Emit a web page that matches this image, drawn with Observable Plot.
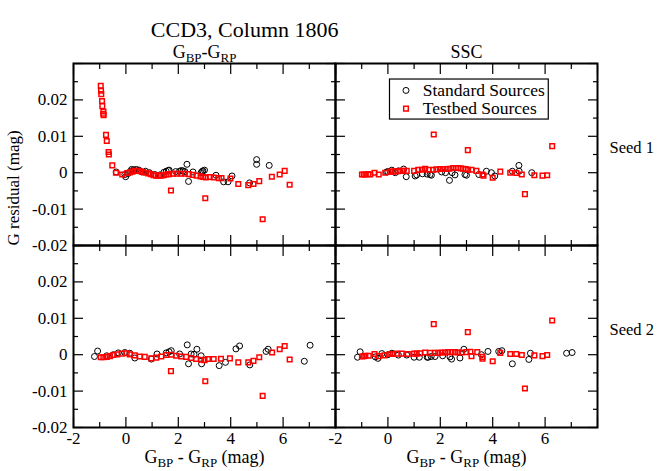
<!DOCTYPE html>
<html><head><meta charset="utf-8">
<script src="https://cdn.jsdelivr.net/npm/d3@7"></script>
<script src="https://cdn.jsdelivr.net/npm/@observablehq/plot@0.6"></script>
<style>body{margin:0;background:#fff} #chart{width:657px;height:471px} #chart svg text{font-family:"Liberation Serif","Times New Roman",serif}</style>
</head><body><div id="chart"></div>
<script>
const title = "CCD3, Column 1806";
const methods = ["GBP-GRP", "SSC"];
const methodLabels = ["G_{BP}-G_{RP}", "SSC"];
const seeds = ["Seed 1", "Seed 2"];
const seriesNames = ["Standard Sources", "Testbed Sources"];
const xLabel = "G_{BP} - G_{RP} (mag)";
const yLabel = "G residual (mag)";
const xTicks = [-2, 0, 2, 4, 6];
const xTickLabels = ["-2", "0", "2", "4", "6"];
const xMajor = [-2, 0, 2, 4, 6, 8];
const xMinor = [-1, 1, 3, 5, 7];
const yTicks = [-0.02, -0.01, 0, 0.01, 0.02];
const yTickLabels = ["-0.02", "-0.01", "0", "0.01", "0.02"];
const yMajor = [-0.02, -0.01, 0, 0.01, 0.02, 0.03];
const yMinor = [-0.015, -0.005, 0.005, 0.015, 0.025];

// Standard sources (black circles)
const stdBprpSeed1 = [[-0.37,0.0002],[-0.04,-0.0005],[-0.01,-0.0011],[0.09,-0.0002],[0.18,0.0004],[0.22,0.0009],[0.3,0.0008],[0.4,0.0009],[0.5,0.0007],[0.6,0.0002],[0.75,0.0004],[0.9,0.0],[1.1,-0.0005],[1.3,-0.0006],[1.45,0.0001],[1.54,0.0004],[1.62,0.0006],[1.65,0.0007],[1.9,0.0003],[2.05,0.0004],[2.12,0.0006],[2.18,0.0005],[2.25,0.0003],[2.33,0.0023],[2.39,-0.0024],[2.56,0.0002],[2.87,0.0],[2.91,0.0003],[2.94,0.0005],[3.0,0.0007],[3.44,-0.0007],[3.73,-0.0025],[3.9,-0.0025],[4.05,-0.0009],[4.72,-0.0028],[4.99,0.0036],[4.99,0.0023],[5.47,0.002]];
const stdSscSeed1 = [[-0.05,0.0002],[0.0,0.0003],[0.15,0.0007],[0.28,0.0],[0.4,0.0005],[0.6,0.001],[0.7,-0.0011],[1.04,-0.0009],[1.1,-0.0006],[1.32,-0.0003],[1.5,-0.0004],[1.61,-0.0005],[1.66,-0.0007],[2.05,0.0002],[2.2,0.0],[2.35,-0.0021],[2.45,0.0],[2.56,-0.0006],[2.94,-0.0005],[3.0,-0.0007],[3.47,-0.0005],[3.76,0.0004],[3.95,0.0],[4.08,-0.0009],[4.75,0.0004],[5.0,0.002],[5.01,0.0004],[5.49,0.0]];
const stdBprpSeed2 = [[-1.2,-0.0005],[-1.08,0.001],[-0.73,-0.0003],[-0.48,0.0],[-0.29,0.0005],[-0.04,0.0006],[0.15,0.0004],[0.34,-0.0009],[0.97,-0.0012],[1.19,0.0002],[1.54,0.0005],[1.65,0.0008],[1.73,0.0011],[2.05,0.0002],[2.34,0.0027],[2.39,-0.0025],[2.49,0.0002],[2.6,0.0001],[2.71,0.0015],[2.87,-0.0003],[2.89,-0.0025],[3.56,-0.003],[3.8,-0.0021],[4.2,0.0016],[4.34,0.0024],[4.73,-0.0028],[5.35,0.0009],[5.43,0.0015],[6.81,-0.0018],[7.03,0.0026]];
const stdSscSeed2 = [[-1.16,-0.0007],[-1.06,0.0008],[-0.48,-0.0006],[-0.38,-0.001],[-0.23,0.0003],[0.0,0.0],[0.15,0.0004],[0.4,-0.0001],[0.72,-0.0001],[1.0,-0.0007],[1.2,-0.0007],[1.5,-0.0007],[1.54,-0.0007],[1.65,-0.0005],[1.8,-0.0005],[2.09,-0.0003],[2.37,-0.0006],[2.43,-0.0012],[2.75,-0.0009],[2.9,0.0015],[3.57,0.0],[3.82,0.0009],[4.23,0.0009],[4.35,0.0011],[4.75,-0.0025],[5.38,-0.0013],[5.44,0.0004],[6.82,0.0004],[7.03,0.0006]];

// Testbed sources (red squares)
const tbBprpSeed1 = [[-0.96,0.0239],[-0.95,0.0225],[-0.94,0.0216],[-0.91,0.0197],[-0.9,0.0183],[-0.86,0.0168],[-0.86,0.0162],[-0.85,0.0158],[-0.76,0.0104],[-0.73,0.0087],[-0.66,0.0057],[-0.65,0.005],[-0.52,0.002],[-0.38,0.0],[-0.14,-0.0005],[0.05,-0.0001],[0.15,0.0001],[0.25,0.0003],[0.35,0.0005],[0.45,0.0005],[0.55,0.0004],[0.65,0.0002],[0.75,0.0],[0.85,-0.0002],[0.95,-0.0004],[1.05,-0.0007],[1.15,-0.0008],[1.25,-0.0008],[1.35,-0.0008],[1.45,-0.0007],[1.55,-0.0005],[1.65,-0.0004],[1.8,-0.0003],[1.95,-0.0003],[2.1,-0.0003],[2.25,-0.0003],[2.4,-0.0004],[2.55,-0.0006],[2.7,-0.0008],[2.85,-0.001],[2.95,-0.0012],[3.05,-0.0013],[3.2,-0.0012],[3.35,-0.0013],[3.55,-0.0015],[3.65,-0.0015],[1.72,-0.0049],[3.03,-0.007],[3.99,-0.0016],[4.29,-0.0031],[4.67,-0.0034],[4.87,-0.0031],[5.09,-0.0023],[5.22,-0.0128],[5.57,-0.0011],[5.87,-0.0005],[6.06,0.0005],[6.25,-0.0033]];
const tbSscSeed1 = [[-0.99,-0.0005],[-0.92,-0.0005],[-0.86,-0.0005],[-0.75,-0.0004],[-0.67,-0.0005],[-0.51,0.0],[-0.35,-0.0005],[-0.1,0.0],[0.09,0.0003],[0.2,0.0003],[0.28,0.0004],[0.38,0.0004],[0.47,0.0005],[0.6,0.0005],[0.72,0.0005],[1.0,0.0005],[1.16,0.0008],[1.3,0.0008],[1.42,0.0011],[1.55,0.0008],[1.73,0.0008],[1.85,0.0009],[1.99,0.001],[2.1,0.001],[2.24,0.001],[2.35,0.0011],[2.49,0.0013],[2.6,0.0013],[2.68,0.0013],[2.78,0.0012],[2.87,0.0011],[2.97,0.001],[3.06,0.0008],[3.19,0.0008],[3.38,0.0005],[3.61,-0.0005],[3.65,-0.0008],[4.0,-0.0014],[4.29,0.0003],[4.67,0.0],[4.9,-0.0001],[5.11,-0.0005],[5.23,-0.0059],[5.59,-0.0007],[5.9,-0.0008],[6.08,-0.0007],[1.75,0.0105],[3.05,0.0062],[6.27,0.0073]];
const tbBprpSeed2 = [[-0.96,-0.0007],[-0.86,-0.0007],[-0.73,-0.0006],[-0.61,-0.0004],[-0.48,-0.0001],[-0.33,0.0001],[-0.16,0.0003],[0.03,0.0004],[0.15,0.0001],[0.34,-0.0002],[0.53,-0.0005],[0.72,-0.0006],[0.97,-0.001],[1.16,-0.0008],[1.35,-0.0005],[1.54,-0.0001],[1.73,0.0],[1.92,-0.0003],[2.11,-0.0005],[2.3,-0.0006],[2.49,-0.0009],[2.68,-0.0012],[2.87,-0.0014],[3.0,-0.0015],[3.13,-0.0012],[3.35,-0.0012],[3.63,-0.0011],[3.97,-0.001],[4.29,-0.0021],[4.67,-0.0021],[4.87,-0.0017],[5.09,-0.0007],[5.58,0.0006],[5.87,0.0015],[6.06,0.0024],[6.25,-0.0013],[1.72,-0.0045],[3.03,-0.0073],[5.22,-0.0113]];
const tbSscSeed2 = [[-0.99,-0.0005],[-0.92,-0.0004],[-0.86,-0.0003],[-0.73,-0.0003],[-0.51,0.0002],[-0.35,-0.0004],[-0.13,-0.0002],[0.09,0.0002],[0.2,0.0002],[0.34,0.0003],[0.53,0.0003],[0.76,0.0002],[1.0,0.0003],[1.1,0.0003],[1.23,0.0004],[1.42,0.0006],[1.61,0.0005],[1.8,0.0005],[1.92,0.0005],[2.05,0.0006],[2.18,0.0006],[2.3,0.0007],[2.43,0.0007],[2.56,0.0007],[2.68,0.0006],[2.81,0.0006],[3.0,0.0007],[3.15,0.0008],[3.19,-0.0004],[3.41,0.0007],[3.61,-0.0006],[3.61,-0.0011],[4.0,-0.0018],[4.29,0.0005],[4.67,0.0002],[4.9,0.0002],[5.11,-0.0001],[5.23,-0.0093],[5.59,-0.0002],[5.9,-0.0004],[6.08,-0.0001],[1.75,0.0084],[3.05,0.0062],[6.27,0.0094]];

const rows = [];
function add(arr, method, seed, series) { for (const [x, y] of arr) rows.push({method, seed, series, x, y}); }
add(stdBprpSeed1, methods[0], seeds[0], seriesNames[0]);
add(stdSscSeed1, methods[1], seeds[0], seriesNames[0]);
add(stdBprpSeed2, methods[0], seeds[1], seriesNames[0]);
add(stdSscSeed2, methods[1], seeds[1], seriesNames[0]);
add(tbBprpSeed1, methods[0], seeds[0], seriesNames[1]);
add(tbSscSeed1, methods[1], seeds[0], seriesNames[1]);
add(tbBprpSeed2, methods[0], seeds[1], seriesNames[1]);
add(tbSscSeed2, methods[1], seeds[1], seriesNames[1]);

const font = "Liberation Serif";
const headers = methods.map((m, i) => ({method: m, seed: seeds[0], label: methodLabels[i]}));
const rowLabels = seeds.map(s => ({method: methods[1], seed: s, label: s}));
const xLabels = methods.map(m => ({method: m, seed: seeds[1], label: xLabel}));
const yLabels = [{method: methods[0], seed: seeds[0], label: yLabel}];
const titles = [{method: methods[0], seed: seeds[0], label: title}];
const legendPanel = [{method: methods[1], seed: seeds[0]}];
const legendStd = [{method: methods[1], seed: seeds[0], label: seriesNames[0]}];
const legendTb = [{method: methods[1], seed: seeds[0], label: seriesNames[1]}];

const tickOpts = {fill: "none", facetAnchor: null, stroke: "black", strokeWidth: 1.2};
const fmtX = d => xTickLabels[xTicks.indexOf(d)];
const fmtY = d => yTickLabels[yTicks.indexOf(d)];
const txt = {fill: "black", fontFamily: font};

const chart = Plot.plot({
  width: 657, height: 471,
  marginLeft: 73, marginRight: 60, marginTop: 62, marginBottom: 44,
  style: {fontFamily: font, background: "white", color: "black"},
  fx: {domain: methods, padding: 0, axis: null},
  fy: {domain: seeds, padding: 0, axis: null},
  x: {domain: [-2, 8], axis: null},
  y: {domain: [-0.02, 0.03], axis: null},
  marks: [
    Plot.dot(rows.filter(d => d.series === seriesNames[0]), {x: "x", y: "y", fx: "method", fy: "seed", symbol: "circle", r: 3, stroke: "black", strokeWidth: 1, fill: "none"}),
    Plot.dot(rows.filter(d => d.series === seriesNames[1]), {x: "x", y: "y", fx: "method", fy: "seed", symbol: "square", r: 2.6, stroke: "#ff0000", strokeWidth: 1.5, fill: "none"}),
    Plot.axisX(xMajor, {anchor: "bottom", tickSize: -10, ...tickOpts}),
    Plot.axisX(xMinor, {anchor: "bottom", tickSize: -5, ...tickOpts}),
    Plot.axisX(xMajor, {anchor: "top", tickSize: -10, ...tickOpts}),
    Plot.axisX(xMinor, {anchor: "top", tickSize: -5, ...tickOpts}),
    Plot.axisY(yMajor, {anchor: "left", tickSize: -10, ...tickOpts}),
    Plot.axisY(yMinor, {anchor: "left", tickSize: -5, ...tickOpts}),
    Plot.axisY(yMajor, {anchor: "right", tickSize: -10, ...tickOpts}),
    Plot.axisY(yMinor, {anchor: "right", tickSize: -5, ...tickOpts}),
    Plot.axisX(xTicks, {anchor: "bottom", tickSize: 0, tickPadding: 4, tickFormat: fmtX, label: null, fontSize: 17, ...txt}),
    Plot.axisY(yTicks, {anchor: "left", tickSize: 0, tickPadding: 6, tickFormat: fmtY, label: null, fontSize: 17, ...txt}),
    Plot.frame({stroke: "black", strokeWidth: 2}),
    Plot.rect(legendPanel, {fx: "method", fy: "seed", x1: 0.08, x2: 6.14, y1: 0.0256, y2: 0.0146, fill: "white", stroke: "black", strokeWidth: 1.2}),
    Plot.dot(legendStd, {fx: "method", fy: "seed", x: 0.69, y: 0.0226, symbol: "circle", r: 3, stroke: "black", strokeWidth: 1, fill: "none"}),
    Plot.dot(legendTb, {fx: "method", fy: "seed", x: 0.69, y: 0.0176, symbol: "square", r: 2.6, stroke: "#ff0000", strokeWidth: 1.5, fill: "none"}),
    Plot.text(legendStd, {fx: "method", fy: "seed", x: 1.33, y: 0.0226, text: "label", textAnchor: "start", fontSize: 17.5, ...txt}),
    Plot.text(legendTb, {fx: "method", fy: "seed", x: 1.33, y: 0.0176, text: "label", textAnchor: "start", fontSize: 17.5, ...txt}),
    Plot.text(headers, {fx: "method", fy: "seed", text: "label", frameAnchor: "top", dy: -18, fontSize: 18, ...txt}),
    Plot.text(rowLabels, {fx: "method", fy: "seed", text: "label", frameAnchor: "right", dx: 12, dy: -7, textAnchor: "start", fontSize: 16.5, ...txt}),
    Plot.text(xLabels, {fx: "method", fy: "seed", text: "label", frameAnchor: "bottom", dy: 35, fontSize: 18, ...txt}),
    Plot.text(yLabels, {fx: "method", fy: "seed", text: "label", frameAnchor: "bottom-left", dx: -55, rotate: -90, fontSize: 17, ...txt}),
    Plot.text(titles, {fx: "method", fy: "seed", text: "label", frameAnchor: "top-right", dx: 3, dy: -42, fontSize: 22, ...txt})
  ]
});

// Render "_{...}" as subscripts
chart.querySelectorAll("text").forEach(t => {
  t.setAttribute("font-family", font);
  const s = t.textContent;
  if (!s.includes("_{")) return;
  t.textContent = "";
  const parts = s.split(/(_\{[^}]*\})/).filter(p => p);
  let shifted = false;
  for (const p of parts) {
    const ts = document.createElementNS("http://www.w3.org/2000/svg", "tspan");
    if (p.startsWith("_{")) {
      ts.textContent = p.slice(2, -1);
      ts.setAttribute("font-size", "72%");
      if (!shifted) ts.setAttribute("dy", "4");
      shifted = true;
    } else {
      ts.textContent = p;
      if (shifted) ts.setAttribute("dy", "-4");
      shifted = false;
    }
    t.appendChild(ts);
  }
});
document.getElementById("chart").appendChild(chart);
</script>
</body></html>
